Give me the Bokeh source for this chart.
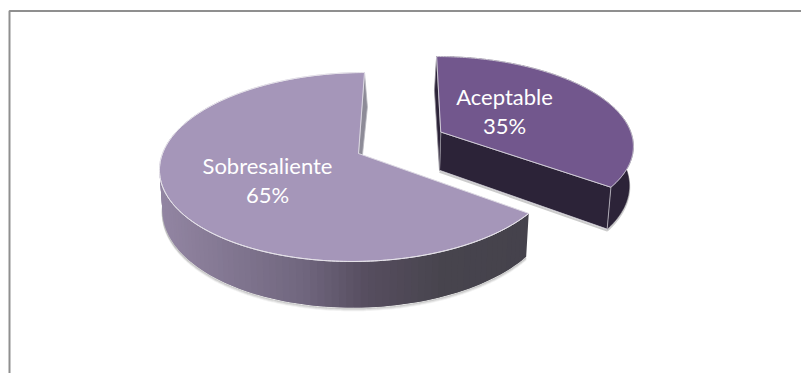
import numpy as np
from bokeh.plotting import figure
from bokeh.models import Range1d, ColumnDataSource
from bokeh.core.properties import value
from bokeh.embed import file_html
from bokeh.resources import INLINE

# Chart content
categories = ["Sobresaliente", "Aceptable"]
shares = [65, 35]
top_colors = ["#a596b9", "#72578d"]
wall_color = "#2c2338"

# Side-wall shading of the large slice, sampled left to right
shade_x = [160, 300, 360, 440, 530]
shade_rgb = [(146, 133, 162), (112, 102, 126), (87, 78, 96), (71, 68, 77), (69, 66, 76)]

# Projection of the tilted pie on the page
CX, CY = 358, 153
RX, RY, K = 197, 92.5, 0.143
DEPTH = 39.5
SHEAR = 0.015
START = 128.0                   # clockwise from the back, where the large slice begins
EXPLODE = (0.431, 0.226)        # offset of the small slice in disc units
SMALL_RADIUS = 0.99
WALL_END = 330.0                # the outer wall is hidden behind the top face past this angle


def project(u, v, z=0.0):
    s = 1 + K * v
    xscale = 1 - 0.015 * z
    x = CX + RX * u / s * xscale
    return x, CY - RY * v / s + z * DEPTH / s - SHEAR * (x - CX)


def arc(a0, a1, du=0.0, dv=0.0, n=240, r=1.0):
    t = np.radians(np.linspace(a0, a1, n))
    return r * np.sin(t) + du, r * np.cos(t) + dv


def hexcol(rgb):
    return "#%02x%02x%02x" % tuple(int(round(c)) for c in rgb)


p = figure(width=801, height=373, x_range=Range1d(0, 801), y_range=Range1d(373, 0),
           output_backend="svg", toolbar_location=None, min_border=0,
           outline_line_color=None, background_fill_color="white", border_fill_color="white")
p.xaxis.visible = False
p.yaxis.visible = False
p.grid.visible = False

# Frame: only the top and left rules are present
p.line([9, 9, 801], [373, 10.5, 10.5], line_color="#8f8f8f", line_width=2)

sweep = [s / sum(shares) * 360 for s in shares]
big0, big1 = START, START + sweep[0]
small0, small1 = START - sweep[1], START
du, dv = EXPLODE

# Large slice: soft shadow under the wall
ua, va = arc(big0, big1)
us_, vs_ = arc(big0, WALL_END)
for off, alpha in [(3, 0.08), (2, 0.14), (1, 0.25)]:
    bx, by = project(us_, vs_, 1.0)
    p.line(bx, by + off, line_color="#555555", line_alpha=alpha, line_width=1.5)

# Large slice: outer wall as shaded strips, each one overlapping the next to hide seams
edges = np.linspace(big0, WALL_END, 111)
step = edges[1] - edges[0]
xs, ys, cols = [], [], []
for a in edges[:-1]:
    ue, ve = arc(a, a + 2 * step, n=3)
    x0, y0 = project(ue, ve, 0.0)
    x1, y1 = project(ue, ve, 1.0)
    xs.append(np.r_[x0, x1[::-1]].tolist())
    ys.append(np.r_[y0, y1[::-1]].tolist())
    cols.append(hexcol([np.interp(x0[1], shade_x, [c[i] for c in shade_rgb]) for i in range(3)]))
p.patches(xs="xs", ys="ys", fill_color="cols", line_color=None,
          source=ColumnDataSource(dict(xs=xs, ys=ys, cols=cols)))

# Large slice: inner wall beside the gap
xa, ya = project(0.0, 0.0, 0.0)
xb, yb = project(0.0, 0.0, 1.0)
ur, vr = arc(big1, big1, n=1)
xc, yc = project(ur, vr, 0.0)
xd, yd = project(ur, vr, 1.0)
p.patch([xa, xc[0], xd[0] + 3, xb], [ya, yc[0], yd[0], yb], fill_color="#8d8b97", line_color="#b9b7bf", line_width=0.8)

# Large slice: top face
xt, yt = project(ua, va, 0.0)
p.patch(np.r_[xt, xa], np.r_[yt, ya], fill_color=top_colors[0], line_color="#dcd8e2", line_width=1)
# The rim is brighter along the visible front
p.line(xt, yt, line_color="#e6e3ea", line_width=1)

# Small slice: shadow under the walls
us, vs = arc(small0, small1, du, dv, r=SMALL_RADIUS)
ax0, ay0 = project(du, dv, 0.0)
ax1, ay1 = project(du, dv, 1.0)
bx, by = project(us[-110:], vs[-110:], 1.0)
p.line(np.r_[ax1, bx[::-1]], np.r_[ay1, by[::-1]] + 1.5, line_color="#555555", line_alpha=0.3, line_width=2)

# Small slice: outer wall, front wall and rear wall
x0, y0 = project(us, vs, 0.0)
x1, y1 = project(us, vs, 1.0)
p.patch(np.r_[x0, x1[::-1]], np.r_[y0, y1[::-1]], fill_color=wall_color, line_color=wall_color, line_width=0.5)
p.patch([ax0, x0[-1], x1[-1], ax1], [ay0, y0[-1], y1[-1], ay1], fill_color=wall_color, line_color="#c9c6cf", line_width=0.8)
p.patch([ax0, x0[0], x1[0] - 1, ax1], [ay0, y0[0], y1[0], ay1], fill_color=wall_color, line_color="#8f8c96", line_width=0.8)

# Small slice: top face
p.patch(np.r_[x0, ax0], np.r_[y0, ay0], fill_color=top_colors[1], line_color="#cfcad6", line_width=1)

# Labels
label_font = value("Lato")
for name, share, lx, ly in zip(categories, shares, [267, 504], [165, 96]):
    p.text([lx], [ly], text=[name], text_color="white", text_font=label_font, text_font_size="22px",
           text_align="center", text_baseline="middle")
    p.text([lx], [ly + 28.5], text=[f"{share}%"], text_color="white", text_font=label_font,
           text_font_size="22px", text_align="center", text_baseline="middle")

open("out.html", "w").write(file_html(p, INLINE))
